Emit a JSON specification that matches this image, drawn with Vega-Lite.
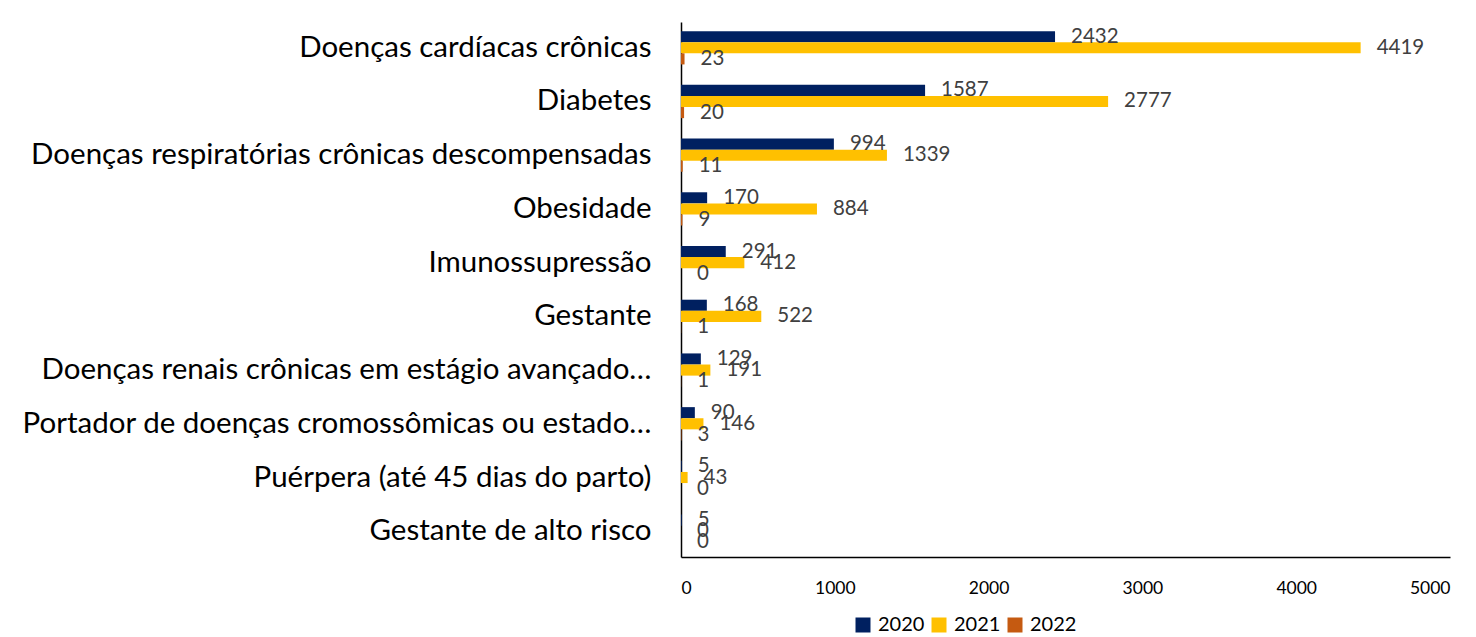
{
  "$schema": "https://vega.github.io/schema/vega-lite/v6.json",
  "autosize": {"type": "none"},
  "padding": {"left": 681, "top": 22, "right": 26, "bottom": 80},
  "width": 769,
  "height": 535,
  "background": "white",
  "config": {"view": {"stroke": null}},
  "data": {"values": [
    {"cat": "Doenças cardíacas crônicas", "year": "2020", "value": 2432},
    {"cat": "Doenças cardíacas crônicas", "year": "2021", "value": 4419},
    {"cat": "Doenças cardíacas crônicas", "year": "2022", "value": 23},
    {"cat": "Diabetes", "year": "2020", "value": 1587},
    {"cat": "Diabetes", "year": "2021", "value": 2777},
    {"cat": "Diabetes", "year": "2022", "value": 20},
    {"cat": "Doenças respiratórias crônicas descompensadas", "year": "2020", "value": 994},
    {"cat": "Doenças respiratórias crônicas descompensadas", "year": "2021", "value": 1339},
    {"cat": "Doenças respiratórias crônicas descompensadas", "year": "2022", "value": 11},
    {"cat": "Obesidade", "year": "2020", "value": 170},
    {"cat": "Obesidade", "year": "2021", "value": 884},
    {"cat": "Obesidade", "year": "2022", "value": 9},
    {"cat": "Imunossupressão", "year": "2020", "value": 291},
    {"cat": "Imunossupressão", "year": "2021", "value": 412},
    {"cat": "Imunossupressão", "year": "2022", "value": 0},
    {"cat": "Gestante", "year": "2020", "value": 168},
    {"cat": "Gestante", "year": "2021", "value": 522},
    {"cat": "Gestante", "year": "2022", "value": 1},
    {"cat": "Doenças renais crônicas em estágio avançado…", "year": "2020", "value": 129},
    {"cat": "Doenças renais crônicas em estágio avançado…", "year": "2021", "value": 191},
    {"cat": "Doenças renais crônicas em estágio avançado…", "year": "2022", "value": 1},
    {"cat": "Portador de doenças cromossômicas ou estado…", "year": "2020", "value": 90},
    {"cat": "Portador de doenças cromossômicas ou estado…", "year": "2021", "value": 146},
    {"cat": "Portador de doenças cromossômicas ou estado…", "year": "2022", "value": 3},
    {"cat": "Puérpera (até 45 dias do parto)", "year": "2020", "value": 5},
    {"cat": "Puérpera (até 45 dias do parto)", "year": "2021", "value": 43},
    {"cat": "Puérpera (até 45 dias do parto)", "year": "2022", "value": 0},
    {"cat": "Gestante de alto risco", "year": "2020", "value": 5},
    {"cat": "Gestante de alto risco", "year": "2021", "value": 0},
    {"cat": "Gestante de alto risco", "year": "2022", "value": 0}
  ]},
  "encoding": {
    "y": {
      "field": "cat", "type": "nominal", "sort": null, "title": null,
      "scale": {"paddingInner": 0.38, "paddingOuter": 0.17},
      "axis": {"domainColor": "black", "domainWidth": 1.5, "ticks": false, "labelPadding": 30,
               "labelFont": "Lato", "labelFontSize": 29.5, "labelColor": "black", "labelLimit": 0}
    },
    "yOffset": {"field": "year", "type": "nominal", "sort": ["2020", "2021", "2022"], "scale": {"paddingInner": 0, "paddingOuter": 0}},
    "x": {
      "field": "value", "type": "quantitative", "title": null,
      "scale": {"domain": [0, 5000], "nice": false},
      "axis": {"values": [0, 1000, 2000, 3000, 4000, 5000], "grid": false, "ticks": false,
               "domainColor": "black", "domainWidth": 1.5, "labelPadding": 22,
               "labelFont": "Lato", "labelFontSize": 17.5, "labelColor": "black", "format": "d"}
    }
  },
  "layer": [
    {
      "mark": {"type": "bar"},
      "encoding": {
        "color": {
          "field": "year", "type": "nominal", "title": null,
          "scale": {"domain": ["2020", "2021", "2022"], "range": ["#002060", "#FFC000", "#C55A11"]},
          "legend": {"orient": "none", "legendX": 172, "legendY": 593, "direction": "horizontal", "padding": 0,
                     "symbolType": "square", "symbolSize": 225, "symbolStrokeWidth": 0,
                     "labelFont": "Lato", "labelFontSize": 20, "labelColor": "black", "columnPadding": 4, "labelOffset": 5}
        }
      }
    },
    {
      "mark": {"type": "text", "align": "left", "baseline": "middle", "dx": 16, "font": "Lato", "fontSize": 20.5, "color": "#404040"},
      "encoding": {"text": {"field": "value", "type": "quantitative", "format": "d"}}
    }
  ]
}
